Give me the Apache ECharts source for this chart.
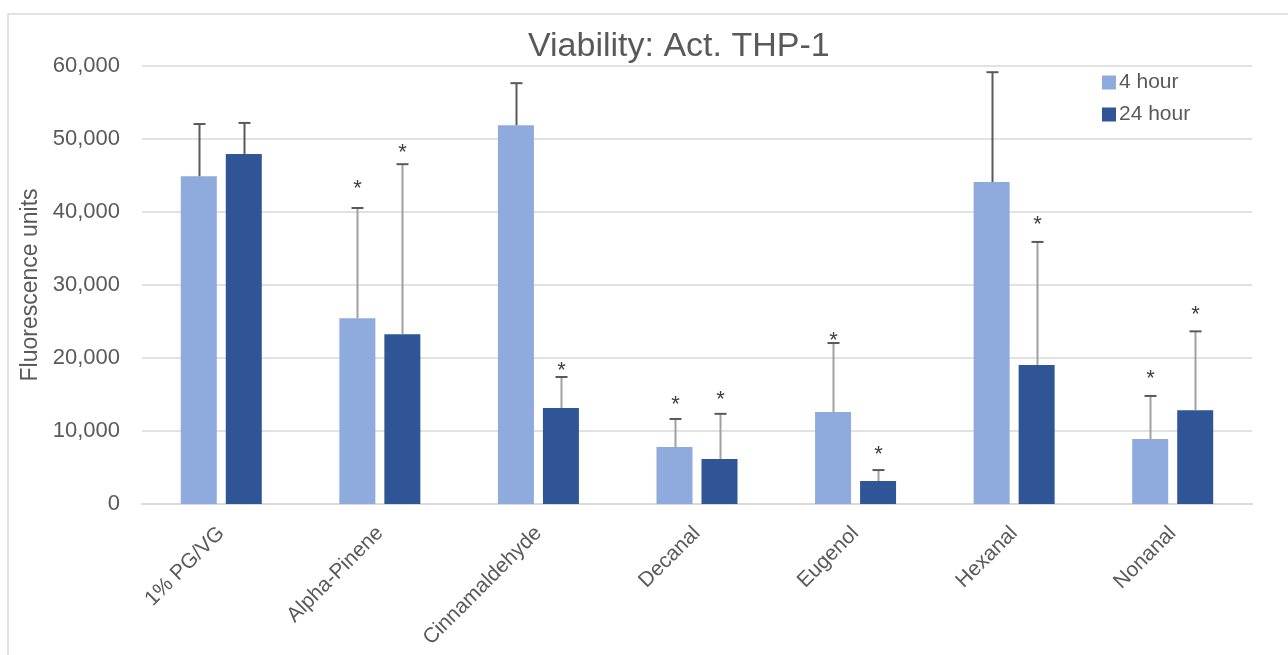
<!DOCTYPE html>
<html><head><meta charset="utf-8">
<script src="https://cdn.jsdelivr.net/npm/echarts@6/dist/echarts.min.js"></script>
<style>html,body{margin:0;padding:0;background:#fff}#c{width:1288px;height:655px}</style>
</head><body><div id="c"></div>
<script>
const categories = ['1% PG/VG','Alpha-Pinene','Cinnamaldehyde','Decanal','Eugenol','Hexanal','Nonanal'];
const seriesNames = ['4 hour','24 hour'];
const values4h = [44900, 25450, 51900, 7800, 12600, 44100, 8900];
const values24h = [47950, 23250, 13150, 6150, 3150, 19050, 12850];
const errTop4h = [52050, 40550, 57650, 11650, 22050, 59150, 14800];
const errTop24h = [52200, 46550, 17400, 12350, 4650, 35900, 23650];
// significance marker (*) and its label position (value units); null = not significant
const star4h = [null, 43850, null, 14250, 23050, null, 17800];
const star24h = [null, 48750, 18900, 14950, 7400, 38900, 26600];
const yTicks = [0, 10000, 20000, 30000, 40000, 50000, 60000];

const FONT = 'Liberation Sans';
const TXT = '#595959';
const BAR_W = 36, BAR_GAP = 9;

function errSeries(name, vals, tops, stars, side) {
  return {
    type: 'custom', name: name + ' err', silent: true, z: 5,
    data: categories.map((c, i) => [i, vals[i], tops[i], stars[i] == null ? -1 : stars[i]]),
    encode: { x: 0, y: 1 },
    renderItem: function (params, api) {
      const off = side * (BAR_W + BAR_GAP) / 2;
      const p0 = api.coord([api.value(0), api.value(1)]);
      const p1 = api.coord([api.value(0), api.value(2)]);
      const x = Math.round(p0[0] + off) + 0.5;
      const sig = api.value(3) >= 0;
      const children = [
        { type: 'line', shape: { x1: x, y1: p0[1], x2: x, y2: p1[1] },
          style: { stroke: sig ? '#a0a0a0' : '#595959', lineWidth: 2 } },
        { type: 'line', shape: { x1: x - 6, y1: p1[1], x2: x + 6, y2: p1[1] },
          style: { stroke: '#595959', lineWidth: 2 } }
      ];
      if (sig) {
        const ps = api.coord([api.value(0), api.value(3)]);
        children.push({ type: 'text', style: { text: '*', x: x, y: ps[1] + 5,
          align: 'center', verticalAlign: 'middle', fill: '#404040',
          font: '22px "' + FONT + '"' } });
      }
      return { type: 'group', children: children };
    }
  };
}

const chart = echarts.init(document.getElementById('c'));
chart.setOption({
  animation: false,
  backgroundColor: '#fff',
  graphic: [
    { type: 'rect', shape: { x: 8, y: 14, width: 1400, height: 700 },
      style: { fill: 'none', stroke: '#d9d9d9', lineWidth: 1.5 }, z: -1 },
    { type: 'text', left: 528, top: 30, style: { text: 'Viability: Act. THP-1',
      font: '34px "' + FONT + '"', fill: TXT } }
  ],
  legend: { data: seriesNames, orient: 'vertical', left: 1097, top: 67, itemGap: 11,
    itemWidth: 14, itemHeight: 14, icon: 'rect',
    textStyle: { fontFamily: FONT, fontSize: 21, color: TXT, padding: [0, 0, 0, -2] } },
  grid: { left: 142, right: 36, top: 66, bottom: 151 },
  xAxis: { type: 'category', data: categories,
    axisLine: { lineStyle: { color: '#d9d9d9', width: 2 } }, axisTick: { show: false },
    axisLabel: { rotate: 45, fontFamily: FONT, fontSize: 21, color: TXT, margin: 26, interval: 0 } },
  yAxis: { type: 'value', min: 0, max: 60000, interval: 10000,
    name: 'Fluorescence units', nameLocation: 'middle', nameGap: 98,
    nameTextStyle: { fontFamily: FONT, fontSize: 23, color: TXT },
    axisLine: { show: false }, axisTick: { show: false },
    splitLine: { lineStyle: { color: '#d9d9d9', width: 1.5 } },
    axisLabel: { fontFamily: FONT, fontSize: 22, color: TXT, margin: 22,
      formatter: v => yTicks.includes(v) ? v.toLocaleString('en-US') : '' } },
  series: [
    { name: seriesNames[0], type: 'bar', data: values4h, barWidth: BAR_W, barGap: (BAR_GAP / BAR_W * 100) + '%',
      itemStyle: { color: '#8faadc' } },
    { name: seriesNames[1], type: 'bar', data: values24h, barWidth: BAR_W,
      itemStyle: { color: '#2f5597' } },
    errSeries(seriesNames[0], values4h, errTop4h, star4h, -1),
    errSeries(seriesNames[1], values24h, errTop24h, star24h, 1)
  ]
});
</script></body></html>
